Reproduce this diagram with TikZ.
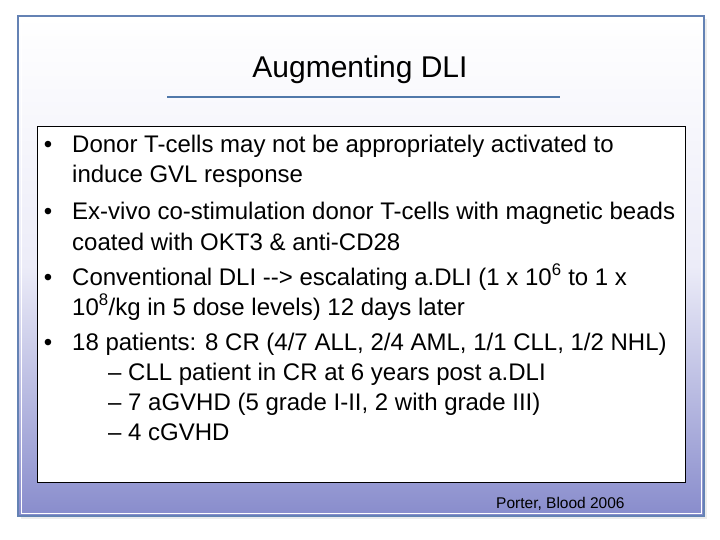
\documentclass[tikz,border=0pt]{standalone}
\usepackage{fontspec}
\setmainfont{Liberation Sans}
\definecolor{bot}{RGB}{136,140,204}
\definecolor{mid}{RGB}{236,236,248}
\definecolor{frame}{RGB}{100,130,180}
\definecolor{tline}{RGB}{80,120,170}
\begin{document}
\begin{tikzpicture}[x=1pt,y=-1pt,
  txt/.style={anchor=base west,inner sep=0pt,font=\fontsize{24}{28}\selectfont},
  bul/.style={anchor=base,inner sep=0pt,font=\fontsize{24}{28}\selectfont}]
\useasboundingbox (0,0) rectangle (720,540);
\fill[white] (0,0) rectangle (720,540);
\fill[gray!15] (21,19) rectangle (707,519);
\shade[top color=white,bottom color=bot,middle color=mid] (18,16) rectangle (704,516);
\draw[frame,line width=1.2] (18,16) rectangle (704,516);
\draw[white,line width=0.8] (21,19) rectangle (701,513);
\node[anchor=base,inner sep=0pt,font=\fontsize{30}{34}\selectfont] (title) at (360,78) {Augmenting DLI};
\draw[tline,line width=2] (167,97) -- (560,97);
\draw[fill=white,line width=0.8] (37,126) rectangle (685,482);
\foreach \y in {153,220,285,350} \node[bul] at (48,\y) {•};
\node[txt] (l1) at (72,153) {Donor T-cells may not be appropriately activated to};
\node[txt] (l2) at (72,183) {induce GVL response};
\node[txt] (l3) at (72,220) {Ex-vivo co-stimulation donor T-cells with magnetic beads};
\node[txt] (l4) at (72,250) {coated with OKT3 \& anti-CD28};
\node[txt] (l5) at (72,285) {Conventional DLI -{}-> escalating a.DLI (1 x 10\textsuperscript{6} to 1 x};
\node[txt] (l6) at (72,315) {10\textsuperscript{8}/kg in 5 dose levels) 12 days later};
\node[txt] (l7) at (72,350) {18 patients: 8 CR (4/7 ALL, 2/4 AML, 1/1 CLL, 1/2 NHL)};
\node[txt] (l8) at (108,380) {– CLL patient in CR at 6 years post a.DLI};
\node[txt] (l9) at (108,410) {– 7 aGVHD (5 grade I-II, 2 with grade III)};
\node[txt] (l10) at (108,440) {– 4 cGVHD};
\node[anchor=base west,inner sep=0pt,font=\fontsize{15.5}{18}\selectfont] (ref) at (496,508) {Porter, Blood 2006};
\end{tikzpicture}
\end{document}
